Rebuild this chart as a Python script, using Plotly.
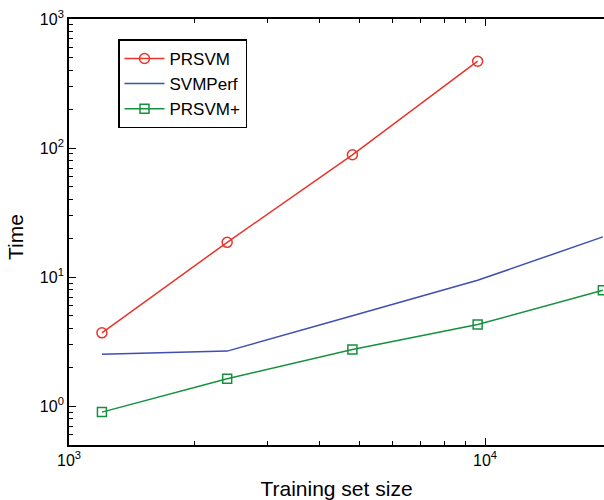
import plotly.graph_objects as go
import numpy as np

# Data
train_size = [1200, 2400, 4800, 9600, 19200]
prsvm = [3.70, 18.6, 88.7, 471]
svmperf = [2.53, 2.67, 5.01, 9.44, 20.5]
prsvm_plus = [0.899, 1.63, 2.75, 4.29, 7.91]

x_major = [1e3, 1e4]
x_major_text = ["10<sup>3</sup>", "10<sup>4</sup>"]
y_major = [1, 10, 100, 1000]
y_major_text = ["10<sup>0</sup>", "10<sup>1</sup>", "10<sup>2</sup>", "10<sup>3</sup>"]

FONT = "Liberation Sans, Arial, Helvetica, sans-serif"
RED = "#e8342b"
BLUE = "#3f4fb3"
GREEN = "#15903f"

x_minor = [m * 10 ** e for e in (3, 4) for m in range(2, 10)]
y_minor = [m * 10 ** e for e in (-1, 0, 1, 2) for m in range(2, 10) if m * 10 ** e >= 0.5]

fig = go.Figure()
fig.add_trace(go.Scatter(
    x=train_size[:len(prsvm)], y=prsvm, name="PRSVM", mode="lines+markers",
    line=dict(color=RED, width=1.5),
    marker=dict(symbol="circle-open", size=10, color=RED, line=dict(width=1.5)),
))
fig.add_trace(go.Scatter(
    x=train_size, y=svmperf, name="SVMPerf", mode="lines",
    line=dict(color=BLUE, width=1.5),
))
fig.add_trace(go.Scatter(
    x=train_size, y=prsvm_plus, name="PRSVM+", mode="lines+markers",
    line=dict(color=GREEN, width=1.5),
    marker=dict(symbol="square-open", size=9, color=GREEN, line=dict(width=1.5)),
))

fig.update_layout(
    width=604, height=500,
    margin=dict(l=69, r=0, t=19, b=55),
    paper_bgcolor="white", plot_bgcolor="white",
    font=dict(family=FONT, color="black", size=16),
    showlegend=True,
    legend=dict(
        x=0.0916, y=0.952, xanchor="left", yanchor="top",
        bordercolor="black", borderwidth=1.5, bgcolor="white",
        font=dict(size=17, family=FONT),
        itemwidth=40,
    ),
    xaxis=dict(
        type="log", range=[3, 4.286],
        tickvals=x_major, ticktext=x_major_text,
        ticks="inside", ticklen=7, tickwidth=1.3, tickcolor="black",
        showline=True, linecolor="black", linewidth=1.8, mirror="ticks",
        showgrid=False, zeroline=False,
        tickfont=dict(size=16, family=FONT),
        minor=dict(tickvals=x_minor, ticks="inside", ticklen=4, tickwidth=1, tickcolor="black", showgrid=False),
        title=dict(text="Training set size", font=dict(size=21, family=FONT), standoff=13),
    ),
    yaxis=dict(
        type="log", range=[np.log10(0.5), 3],
        tickvals=y_major, ticktext=y_major_text,
        ticks="inside", ticklen=7, tickwidth=1.3, tickcolor="black",
        showline=True, linecolor="black", linewidth=1.8, mirror=False,
        showgrid=False, zeroline=False,
        tickfont=dict(size=16, family=FONT),
        minor=dict(tickvals=y_minor, ticks="inside", ticklen=4, tickwidth=1, tickcolor="black", showgrid=False),
    ),
    annotations=[dict(
        text="Time", xref="paper", yref="paper", x=0, y=0.5,
        xanchor="center", yanchor="middle", textangle=-90,
        xshift=-54, yshift=-5, showarrow=False,
        font=dict(size=21, family=FONT, color="black"),
    )],
)

fig.write_html(
    "out.html",
    config={"displayModeBar": False},
    post_script="document.body.style.margin='0';document.body.style.overflow='hidden';",
)
